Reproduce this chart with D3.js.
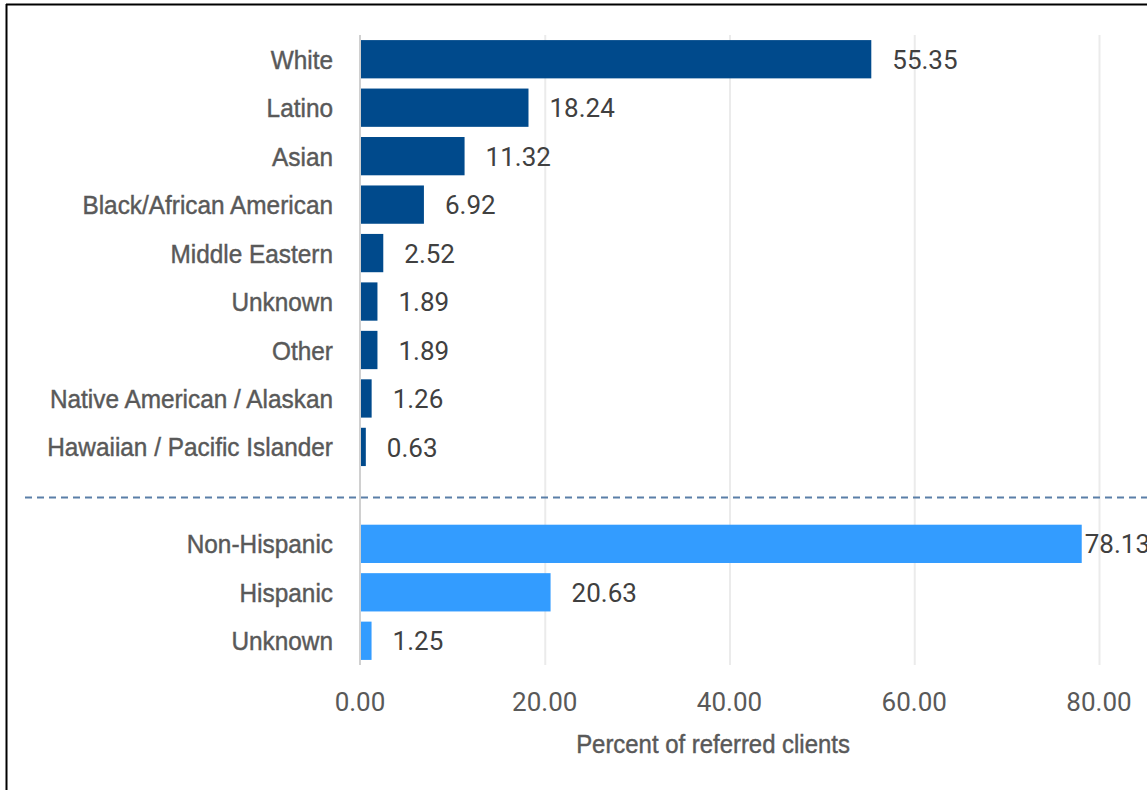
<!DOCTYPE html>
<html>
<head>
<meta charset="utf-8">
<script src="https://cdn.jsdelivr.net/npm/d3@7"></script>
<style>
  html, body { margin: 0; padding: 0; background: #fff; }
  svg { display: block; }
</style>
</head>
<body>
<svg id="chart" width="1147" height="790"></svg>
<script>
// ---- data ----
const raceCategories = ["White", "Latino", "Asian", "Black/African American", "Middle Eastern", "Unknown", "Other", "Native American / Alaskan", "Hawaiian / Pacific Islander"];
const raceValues = [55.35, 18.24, 11.32, 6.92, 2.52, 1.89, 1.89, 1.26, 0.63];
const ethnicityCategories = ["Non-Hispanic", "Hispanic", "Unknown"];
const ethnicityValues = [78.13, 20.63, 1.25];
const xTicks = [0, 20, 40, 60, 80];
const xTitle = "Percent of referred clients";

// ---- build rows ----
const rows = [];
raceCategories.forEach((c, i) => rows.push({ key: "r" + i, label: c, value: raceValues[i], group: "race" }));
rows.push({ key: "sep", label: "", value: null, group: "sep" });
ethnicityCategories.forEach((c, i) => rows.push({ key: "e" + i, label: c, value: ethnicityValues[i], group: "eth" }));

const W = 1147, H = 790;
const svg = d3.select("#chart");

const x = d3.scaleLinear().domain([0, 80]).range([360, 1099]);
const y = d3.scaleBand().domain(rows.map(d => d.key)).range([35, 665]).paddingInner(0.21).paddingOuter(0.105);
const color = { race: "#004A8C", eth: "#339CFF" };
const narrowFont = "'Liberation Sans', Arial, sans-serif";
const squeeze = 0.92;

// frame
svg.append("line").attr("x1", 6.5).attr("x2", 6.5).attr("y1", 4).attr("y2", H).attr("stroke", "#000").attr("stroke-width", 2);
svg.append("line").attr("x1", 6).attr("x2", W).attr("y1", 4.5).attr("y2", 4.5).attr("stroke", "#000").attr("stroke-width", 2);

// gridlines
svg.append("g").selectAll("line").data(xTicks.filter(t => t > 0)).join("line")
  .attr("x1", d => x(d) + 0.5).attr("x2", d => x(d) + 0.5)
  .attr("y1", 35).attr("y2", 665)
  .attr("stroke", "#ebebeb").attr("stroke-width", 2);

// bars
const bars = rows.filter(d => d.value !== null);
svg.append("g").selectAll("rect").data(bars).join("rect")
  .attr("x", x(0) + 1)
  .attr("y", d => y(d.key))
  .attr("width", d => x(d.value) - x(0) - 1)
  .attr("height", y.bandwidth())
  .attr("fill", d => color[d.group]);

// axis line (vertical at 0)
svg.append("line").attr("x1", x(0)).attr("x2", x(0)).attr("y1", 35).attr("y2", 665)
  .attr("stroke", "#d0d0d0").attr("stroke-width", 2);

// separator dashed line
const sepY = y("sep") + y.bandwidth() / 2 + 2;
svg.append("line").attr("x1", 25).attr("x2", W).attr("y1", sepY).attr("y2", sepY)
  .attr("stroke", "#5a7fa8").attr("stroke-width", 2).attr("stroke-dasharray", "7,5");

// category labels
svg.append("g").selectAll("text").data(bars).join("text")
  .attr("transform", d => `translate(333,${y(d.key) + y.bandwidth() / 2}) scale(${squeeze},1)`)
  .attr("dy", "0.36em")
  .attr("text-anchor", "end")
  .attr("font-family", narrowFont)
  .attr("font-size", 26.5)
  .attr("fill", "#595959")
  .attr("stroke", "#595959").attr("stroke-width", 0.45)
  .text(d => d.label);

// value labels
svg.append("g").selectAll("text").data(bars).join("text")
  .attr("x", d => { const e = x(d.value); return e + 21 > 1070 ? e + 3 : e + 21; })
  .attr("y", d => y(d.key) + y.bandwidth() / 2)
  .attr("dy", "0.37em")
  .attr("font-family", "Roboto, sans-serif")
  .attr("font-size", 26)
  .attr("fill", "#404040")
  .text(d => d.value.toFixed(2));

// x tick labels
svg.append("g").selectAll("text").data(xTicks).join("text")
  .attr("x", d => x(d))
  .attr("y", 711)
  .attr("text-anchor", "middle")
  .attr("font-family", "Roboto, sans-serif")
  .attr("font-size", 26)
  .attr("fill", "#595959")
  .text(d => d.toFixed(2));

// x title
svg.append("text")
  .attr("transform", `translate(713,753) scale(${squeeze},1)`)
  .attr("text-anchor", "middle")
  .attr("font-family", narrowFont)
  .attr("font-size", 26)
  .attr("fill", "#595959")
  .attr("stroke", "#595959").attr("stroke-width", 0.45)
  .text(xTitle);
</script>
</body>
</html>
